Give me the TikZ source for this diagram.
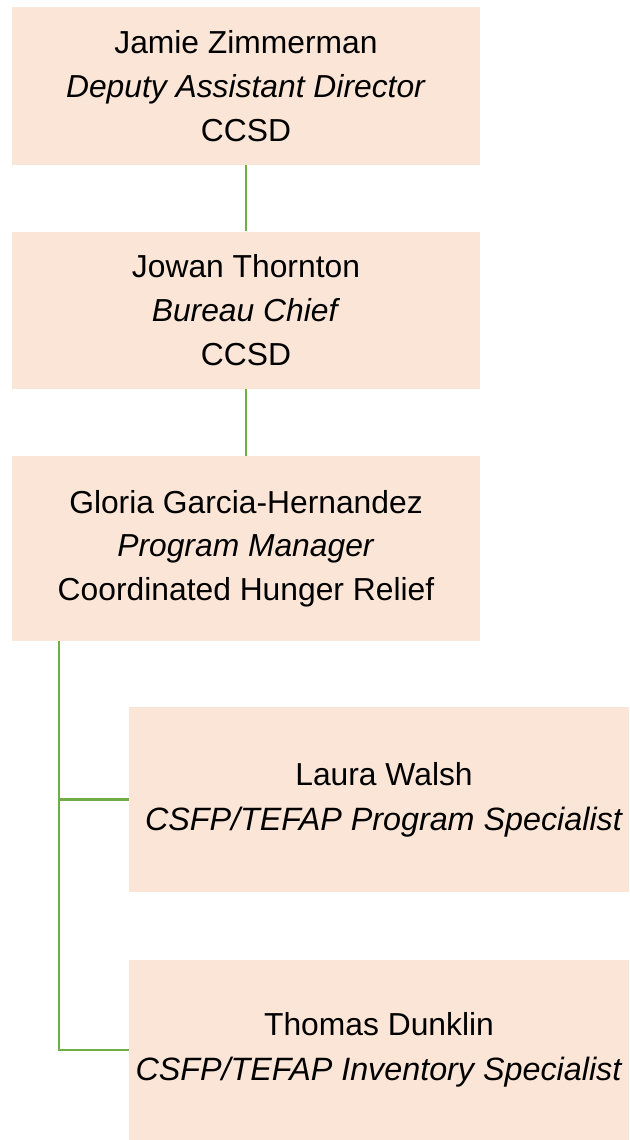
\documentclass[tikz,border=0pt]{standalone}
\usepackage{fontspec}
\setmainfont{Liberation Sans}
\begin{document}
\begin{tikzpicture}[x=1pt,y=-1pt,
  orgbox/.style={fill=boxfill, draw=none, inner sep=0pt, align=center,
    font=\fontsize{31.8}{43.7}\selectfont, text=black},
  link/.style={draw=linkgreen, line width=2.2pt}]
\definecolor{boxfill}{HTML}{FBE5D6}
\definecolor{linkgreen}{HTML}{70AD47}
\useasboundingbox (0,0) rectangle (629,1140);
% boxes, given by their centres and sizes
\node[orgbox, minimum width=468pt, minimum height=158pt] (zimmerman) at (246,86)
  {Jamie Zimmerman\\\textit{Deputy Assistant Director}\\CCSD};
\node[orgbox, minimum width=468pt, minimum height=157pt] (thornton) at (246,310)
  {Jowan Thornton\\\textit{Bureau Chief}\\CCSD};
\node[orgbox, minimum width=468pt, minimum height=185pt] (garcia) at (246,548.5)
  {Gloria Garcia-Hernandez\\\textit{Program Manager}\\Coordinated Hunger Relief};
\node[orgbox, minimum width=500pt, minimum height=185pt] (walsh) at (379,799.5)
  {\hspace*{10pt}Laura Walsh\\[1pt]\hspace*{10pt}\textit{\fontsize{32.3}{43.7}\selectfont CSFP/TEFAP Program Specialist}};
\node[orgbox, minimum width=500pt, minimum height=180pt] (dunklin) at (379,1050)
  {Thomas Dunklin\\[1pt]\textit{\fontsize{32.3}{43.7}\selectfont CSFP/TEFAP Inventory Specialist}};
% reporting lines
\draw[link, line width=2pt] (zimmerman.south) -- (thornton.north);
\draw[link, line width=2pt] (thornton.south) -- (garcia.north);
\coordinate (trunk) at (59,641);
\draw[link] (trunk) |- (dunklin.west);
\draw[link] (trunk |- walsh.west) -- (walsh.west);
\end{tikzpicture}
\end{document}
